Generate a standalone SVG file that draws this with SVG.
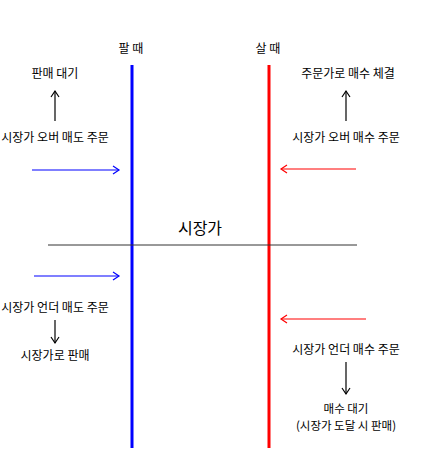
<svg xmlns="http://www.w3.org/2000/svg" width="421" height="450" viewBox="0 0 421 450">
<style>
text{font-family:"Noto Sans CJK KR","Noto Sans",sans-serif;font-size:12px;fill:#000;text-anchor:middle}
.big{font-size:16px}
.sm{font-size:11.5px}
.blue{stroke:#0000ff;stroke-width:1.2;fill:none}
.red{stroke:#ff0000;stroke-width:1.2;fill:none}
.blk{stroke:#000;stroke-width:1.2;fill:none}
</style>
<defs>
<marker id="hb" markerWidth="10" markerHeight="10" refX="8" refY="5" orient="auto" markerUnits="userSpaceOnUse"><path d="M2,1 L8,5 L2,9" fill="none" stroke="#0000ff" stroke-width="1.2"/></marker>
<marker id="hr" markerWidth="10" markerHeight="10" refX="8" refY="5" orient="auto" markerUnits="userSpaceOnUse"><path d="M2,1 L8,5 L2,9" fill="none" stroke="#ff0000" stroke-width="1.2"/></marker>
<marker id="hk" markerWidth="10" markerHeight="10" refX="8" refY="5" orient="auto" markerUnits="userSpaceOnUse"><path d="M2,1 L8,5 L2,9" fill="none" stroke="#000" stroke-width="1.2"/></marker>
</defs>
<rect width="421" height="450" fill="#fff"/>
<g id="sell-line"><line x1="132" y1="65" x2="132" y2="448" stroke="#0000ff" stroke-width="3"/><text x="131" y="53">팔 때</text></g>
<g id="buy-line"><line x1="269" y1="65" x2="269" y2="448" stroke="#ff0000" stroke-width="3"/><text x="268" y="53">살 때</text></g>
<g id="market"><line x1="48" y1="245" x2="357" y2="245" stroke="#333" stroke-width="1"/><text class="big" x="200" y="234">시장가</text></g>
<g id="sell-over"><text x="55" y="142">시장가 오버 매도 주문</text><text x="55" y="78">판매 대기</text></g>
<g id="buy-over"><text x="346" y="142">시장가 오버 매수 주문</text><text x="348" y="78">주문가로 매수 체결</text></g>
<g id="sell-under"><text x="55" y="312">시장가 언더 매도 주문</text><text x="55" y="360">시장가로 판매</text></g>
<g id="buy-under"><text x="346" y="354">시장가 언더 매수 주문</text><text class="sm" x="346" y="413">매수 대기</text><text class="sm" x="346" y="430">(시장가 도달 시 판매)</text></g>
<g id="connectors">
<line class="blue" x1="32" y1="170" x2="119" y2="170" marker-end="url(#hb)"/>
<line class="blue" x1="34" y1="276" x2="119" y2="276" marker-end="url(#hb)"/>
<line class="red" x1="356" y1="169" x2="281" y2="169" marker-end="url(#hr)"/>
<line class="red" x1="366" y1="319" x2="281" y2="319" marker-end="url(#hr)"/>
<line class="blk" x1="55" y1="121" x2="55" y2="91" marker-end="url(#hk)"/>
<line class="blk" x1="346" y1="121" x2="346" y2="91" marker-end="url(#hk)"/>
<line class="blk" x1="55" y1="320" x2="55" y2="343" marker-end="url(#hk)"/>
<line class="blk" x1="346" y1="362" x2="346" y2="394" marker-end="url(#hk)"/>
</g>
</svg>
